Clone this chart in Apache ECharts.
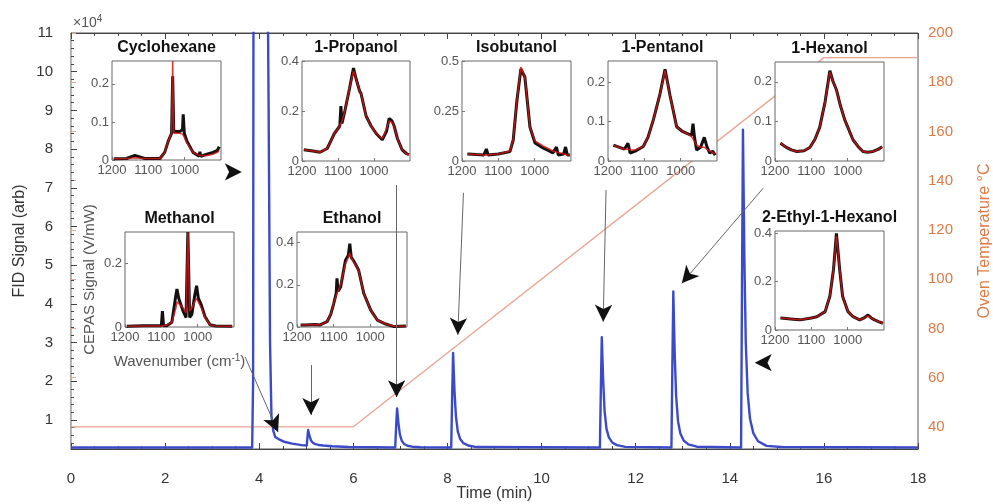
<!DOCTYPE html>
<html><head><meta charset="utf-8">
<script src="https://cdn.jsdelivr.net/npm/echarts@6/dist/echarts.min.js"></script>
<style>html,body{margin:0;padding:0;background:#fff}#c{width:993px;height:504px}</style>
</head><body><div id="c"></div>
<script>
// ---------------- DATA ----------------
// FID chromatogram (time in min, signal in 1e4 arb)
const fidTime = [0, 3.85, 3.87, 3.88, 4.15, 4.17, 4.2, 4.23, 4.26, 4.3, 4.34, 4.38, 4.42, 4.46, 4.55, 4.7, 4.9,
  5.01, 5.03, 5.04, 5.07, 5.10, 5.14, 5.19, 5.26, 5.36, 5.55, 5.9,
  6.89, 6.91, 6.93, 6.96, 6.99, 7.03, 7.08, 7.15, 7.25, 7.43,
  8.08, 8.10, 8.12, 8.15, 8.18, 8.22, 8.27, 8.34, 8.44, 8.62,
  11.24, 11.26, 11.28, 11.31, 11.34, 11.38, 11.43, 11.5, 11.6, 11.78,
  12.76, 12.78, 12.80, 12.83, 12.86, 12.90, 12.95, 13.02, 13.12, 13.3,
  14.24, 14.26, 14.28, 14.31, 14.34, 14.38, 14.43, 14.5, 14.6, 14.78, 15.1, 18];
const fidSignal = [0.29, 0.29, 2.0, 15, 20, 14, 9, 3, 1.1, 0.72, 0.56, 0.52, 0.5, 0.46, 0.43, 0.39, 0.35,
  0.34, 0.62, 0.74, 0.58, 0.47, 0.41, 0.375, 0.355, 0.34, 0.32, 0.30,
  0.29, 0.85, 1.3, 0.9, 0.62, 0.46, 0.38, 0.335, 0.31, 0.295,
  0.29, 1.6, 2.73, 1.75, 1.1, 0.7, 0.51, 0.4, 0.34, 0.3,
  0.29, 1.8, 3.14, 2.0, 1.23, 0.77, 0.55, 0.42, 0.35, 0.305,
  0.29, 2.4, 4.32, 2.7, 1.62, 0.97, 0.65, 0.47, 0.37, 0.31,
  0.29, 4.5, 8.5, 5.2, 3.0, 1.7, 1.03, 0.66, 0.45, 0.33, 0.3, 0.29];
// Oven temperature program
const tempTime = [0, 6, 16, 18];
const tempValue = [40, 40, 190, 190];
// Axis tick labels
const xTickValues = [0, 2, 4, 6, 8, 10, 12, 14, 16, 18];
const leftTickValues = [1, 2, 3, 4, 5, 6, 7, 8, 9, 10, 11];
const rightTickValues = [40, 60, 80, 100, 120, 140, 160, 180, 200];
const insetXTicks = [1200, 1100, 1000];

// Inset spectra (wavenumber cm-1, CEPAS signal V/mW); black = measured, red = reference
const cycWn    = [1195, 1160, 1137, 1110, 1068, 1055, 1045, 1036, 1033, 1030, 1026, 1013, 1006, 1004, 1001, 994, 977, 960, 958, 956, 939, 922, 910, 905];
const cycBlack = [0.003, 0.004, 0.012, 0.004, 0.004, 0.02, 0.05, 0.07, 0.22, 0.075, 0.07, 0.075, 0.08, 0.12, 0.07, 0.05, 0.02, 0.01, 0.022, 0.01, 0.015, 0.02, 0.025, 0.035];
const cycRed   = [0.003, 0.004, 0.006, 0.004, 0.004, 0.02, 0.05, 0.07, 0.26, 0.07, 0.065, 0.07, 0.068, 0.065, 0.06, 0.045, 0.02, 0.012, 0.012, 0.012, 0.012, 0.015, 0.02, 0.025];
const cycTicks = [0, 0.1, 0.2];

const metWn    = [1195, 1150, 1120, 1100, 1097, 1094, 1085, 1071, 1060, 1057, 1052, 1040, 1032, 1027, 1025, 1022, 1016, 1008, 1003, 998, 990, 980, 966, 950, 905];
const metBlack = [0.002, 0.004, 0.004, 0.004, 0.05, 0.004, 0.004, 0.015, 0.1, 0.12, 0.09, 0.05, 0.03, 0.3, 0.3, 0.03, 0.04, 0.1, 0.13, 0.09, 0.07, 0.033, 0.007, 0.003, 0.002];
const metRed   = [0.002, 0.003, 0.003, 0.003, 0.004, 0.004, 0.006, 0.015, 0.06, 0.08, 0.085, 0.06, 0.045, 0.3, 0.3, 0.05, 0.06, 0.08, 0.09, 0.085, 0.06, 0.03, 0.007, 0.003, 0.002];
const metTicks = [0, 0.2];

const proWn    = [1195, 1170, 1150, 1130, 1110, 1095, 1092, 1089, 1081, 1068, 1057, 1050, 1040, 1036, 1022, 1008, 994, 977, 965, 958, 950, 944, 935, 922, 910, 903];
const proBlack = [0.045, 0.04, 0.035, 0.05, 0.11, 0.14, 0.22, 0.15, 0.2, 0.29, 0.372, 0.33, 0.28, 0.27, 0.18, 0.14, 0.11, 0.085, 0.12, 0.17, 0.16, 0.14, 0.09, 0.045, 0.03, 0.025];
const proRed   = [0.045, 0.04, 0.035, 0.05, 0.11, 0.14, 0.15, 0.16, 0.2, 0.29, 0.36, 0.33, 0.28, 0.27, 0.18, 0.14, 0.11, 0.09, 0.13, 0.16, 0.155, 0.14, 0.09, 0.045, 0.03, 0.025];
const proTicks = [0, 0.2, 0.4];

const ethWn    = [1190, 1178, 1150, 1137, 1118, 1108, 1100, 1093, 1091, 1088, 1081, 1068, 1060, 1056, 1052, 1046, 1032, 1018, 999, 981, 958, 935, 920, 903];
const ethBlack = [0.01, 0.01, 0.012, 0.01, 0.025, 0.06, 0.11, 0.16, 0.23, 0.17, 0.19, 0.315, 0.34, 0.395, 0.33, 0.315, 0.27, 0.16, 0.08, 0.033, 0.014, 0.002, 0.004, 0.005];
const ethRed   = [0.01, 0.01, 0.012, 0.01, 0.025, 0.06, 0.11, 0.15, 0.16, 0.17, 0.2, 0.3, 0.33, 0.35, 0.33, 0.31, 0.27, 0.16, 0.08, 0.033, 0.014, 0.004, 0.004, 0.005];
const ethTicks = [0, 0.2, 0.4];

const isoWn    = [1185, 1160, 1140, 1133, 1128, 1100, 1068, 1059, 1049, 1038, 1027, 1013, 999, 977, 960, 950, 940, 935, 930, 920, 915, 910, 903];
const isoBlack = [0.035, 0.032, 0.03, 0.06, 0.03, 0.035, 0.047, 0.105, 0.3, 0.46, 0.42, 0.17, 0.09, 0.065, 0.05, 0.04, 0.07, 0.03, 0.035, 0.035, 0.07, 0.03, 0.03];
const isoRed   = [0.035, 0.032, 0.03, 0.03, 0.03, 0.035, 0.05, 0.11, 0.3, 0.47, 0.42, 0.17, 0.1, 0.075, 0.06, 0.05, 0.045, 0.04, 0.04, 0.035, 0.035, 0.03, 0.03];
const isoTicks = [0, 0.25, 0.5];

const penWn    = [1185, 1176, 1155, 1145, 1139, 1125, 1103, 1090, 1075, 1057, 1043, 1029, 1011, 995, 983, 970, 966, 962, 956, 945, 935, 928, 920, 912, 905];
const penBlack = [0.04, 0.037, 0.03, 0.045, 0.02, 0.025, 0.037, 0.06, 0.105, 0.17, 0.233, 0.165, 0.087, 0.075, 0.07, 0.065, 0.095, 0.06, 0.028, 0.035, 0.06, 0.037, 0.02, 0.025, 0.015];
const penRed   = [0.04, 0.037, 0.03, 0.03, 0.028, 0.028, 0.037, 0.06, 0.105, 0.17, 0.23, 0.165, 0.087, 0.075, 0.07, 0.062, 0.06, 0.05, 0.04, 0.035, 0.035, 0.03, 0.025, 0.022, 0.018];
const penTicks = [0, 0.1, 0.2];

const hexWn    = [1185, 1170, 1155, 1140, 1120, 1104, 1090, 1077, 1062, 1049, 1040, 1031, 1020, 1008, 995, 985, 970, 958, 945, 930, 915, 905];
const hexBlack = [0.045, 0.035, 0.028, 0.024, 0.026, 0.034, 0.055, 0.085, 0.15, 0.228, 0.2, 0.18, 0.14, 0.104, 0.075, 0.053, 0.035, 0.024, 0.022, 0.024, 0.03, 0.036];
const hexRed   = [0.045, 0.035, 0.028, 0.024, 0.026, 0.034, 0.055, 0.085, 0.15, 0.225, 0.2, 0.18, 0.14, 0.104, 0.075, 0.053, 0.035, 0.024, 0.022, 0.024, 0.03, 0.036];
const hexTicks = [0, 0.1, 0.2];

const ehxWn    = [1185, 1177, 1150, 1131, 1100, 1085, 1062, 1049, 1039, 1033, 1031, 1028, 1022, 1014, 999, 985, 967, 955, 944, 935, 926, 915, 903];
const ehxBlack = [0.05, 0.049, 0.045, 0.042, 0.05, 0.055, 0.076, 0.14, 0.25, 0.36, 0.4, 0.35, 0.25, 0.14, 0.076, 0.055, 0.042, 0.05, 0.062, 0.05, 0.042, 0.035, 0.028];
const ehxRed   = [0.05, 0.049, 0.045, 0.042, 0.05, 0.055, 0.076, 0.14, 0.25, 0.35, 0.39, 0.35, 0.25, 0.14, 0.076, 0.055, 0.042, 0.05, 0.058, 0.05, 0.042, 0.035, 0.028];
const ehxTicks = [0, 0.2, 0.4];

// Annotation arrows [tailTime, tailSignal, tipTime, tipSignal]
const arrowLines = [
  [3.70, 2.63, 4.40, 0.69],
  [5.10, 2.42, 5.10, 1.13],
  [6.92, 7.07, 6.92, 1.59],
  [8.34, 6.87, 8.22, 3.20],
  [11.37, 6.94, 11.31, 3.54],
  [14.71, 6.99, 12.98, 4.53]
];
const arrowHeads = [
  [3.25, 7.41, 3.63, 7.41],
  [14.90, 2.48, 14.53, 2.48]
];

// ---------------- LAYOUT ----------------
const FONT = '"Liberation Sans", Arial, sans-serif';
const MAIN = {left: 71, top: 33, width: 847, height: 416};
const insets = [
  {title: 'Cyclohexane', wn: cycWn, black: cycBlack, red: cycRed, ymax: 0.26, ticks: cycTicks, box: [112, 61, 109, 99]},
  {title: '1-Propanol', wn: proWn, black: proBlack, red: proRed, ymax: 0.4, ticks: proTicks, box: [302, 61, 108, 100]},
  {title: 'Isobutanol', wn: isoWn, black: isoBlack, red: isoRed, ymax: 0.5, ticks: isoTicks, box: [462, 61, 109, 100]},
  {title: '1-Pentanol', wn: penWn, black: penBlack, red: penRed, ymax: 0.254, ticks: penTicks, box: [608, 61, 109, 100]},
  {title: '1-Hexanol', wn: hexWn, black: hexBlack, red: hexRed, ymax: 0.25, ticks: hexTicks, box: [775, 62, 109, 99]},
  {title: 'Methanol', wn: metWn, black: metBlack, red: metRed, ymax: 0.3, ticks: metTicks, box: [125, 232, 109, 95], labels: true},
  {title: 'Ethanol', wn: ethWn, black: ethBlack, red: ethRed, ymax: 0.45, ticks: ethTicks, box: [297, 232, 110, 95]},
  {title: '2-Ethyl-1-Hexanol', wn: ehxWn, black: ehxBlack, red: ehxRed, ymax: 0.41, ticks: ehxTicks, box: [775, 231, 109, 99]}
];

const zip = (a, b) => a.map((v, i) => [v, b[i]]);
const xMinor = []; for (let k = 0; k <= 36; k++) { if (k % 4) xMinor.push(k * 0.5); }
const yMinor = []; for (let k = 2; k <= 54; k++) { if (k % 5) yMinor.push(Math.round(k * 2) / 10); }

const grids = [{left: MAIN.left, top: MAIN.top, width: MAIN.width, height: MAIN.height, show: true, borderColor: '#555', borderWidth: 1,
  backgroundColor: 'transparent', z: 0, containLabel: false, outerBoundsMode: 'none'}];
const xAxes = [
  {gridIndex: 0, type: 'value', min: 0, max: 18, interval: 2, position: 'bottom',
   axisLine: {lineStyle: {color: '#444'}}, axisTick: {inside: true, length: 6, lineStyle: {color: '#444'}},
   axisLabel: {fontSize: 15, color: '#333', margin: 22, fontFamily: FONT}, splitLine: {show: false},
   name: 'Time (min)', nameLocation: 'middle', nameGap: 37, nameMoveOverlap: false,
   nameTextStyle: {fontSize: 16, color: '#333', fontFamily: FONT}},
  {gridIndex: 0, type: 'value', min: 0, max: 18, position: 'bottom', axisLine: {show: false},
   axisTick: {inside: true, length: 3, customValues: xMinor, lineStyle: {color: '#444'}}, axisLabel: {show: false}, splitLine: {show: false}},
  {gridIndex: 0, type: 'value', min: 0, max: 18, interval: 2, position: 'top',
   axisLine: {lineStyle: {color: '#444'}}, axisTick: {inside: true, length: 6, lineStyle: {color: '#444'}}, axisLabel: {show: false}, splitLine: {show: false}},
  {gridIndex: 0, type: 'value', min: 0, max: 18, position: 'top', axisLine: {show: false},
   axisTick: {inside: true, length: 3, customValues: xMinor, lineStyle: {color: '#444'}}, axisLabel: {show: false}, splitLine: {show: false}}
];
const yAxes = [
  {gridIndex: 0, type: 'value', min: 0.25, max: 11, position: 'left',
   axisLine: {lineStyle: {color: '#444'}}, axisTick: {inside: true, length: 6, customValues: leftTickValues, lineStyle: {color: '#444'}},
   axisLabel: {customValues: leftTickValues, fontSize: 15, color: '#333', margin: 18, fontFamily: FONT}, splitLine: {show: false},
   name: 'FID Signal (arb)', nameLocation: 'middle', nameGap: 43, nameRotate: 90, nameMoveOverlap: false,
   nameTextStyle: {fontSize: 16, color: '#333', fontFamily: FONT}},
  {gridIndex: 0, type: 'value', min: 31, max: 200, position: 'right',
   axisLine: {lineStyle: {color: '#e6a996'}}, axisTick: {inside: false, length: 5, customValues: rightTickValues, lineStyle: {color: '#e6a996'}},
   axisLabel: {customValues: rightTickValues, fontSize: 15, color: '#dd7b48', margin: 10, fontFamily: FONT}, splitLine: {show: false},
   name: 'Oven Temperature °C', nameLocation: 'middle', nameGap: 59, nameRotate: 90, nameMoveOverlap: false,
   nameTextStyle: {fontSize: 16, color: '#dd7b48', fontFamily: FONT}},
  {gridIndex: 0, type: 'value', min: 0.25, max: 11, position: 'left', axisLine: {show: false},
   axisTick: {inside: true, length: 3, customValues: yMinor, lineStyle: {color: '#444'}}, axisLabel: {show: false}, splitLine: {show: false}}
];
const series = [
  {type: 'line', xAxisIndex: 0, yAxisIndex: 1, data: zip(tempTime, tempValue), showSymbol: false, silent: true,
   lineStyle: {color: '#e9a593', width: 1.3}, z: 2, animation: false},
  {type: 'line', xAxisIndex: 0, yAxisIndex: 0, data: zip(fidTime, fidSignal), showSymbol: false, silent: true, clip: true,
   lineStyle: {color: '#3b4bc8', width: 2.4, join: 'round'}, z: 3, animation: false}
];

const graphics = [
  {type: 'text', x: 73, y: 23, z: 20, silent: true, style: {text: '{a|×10}{b|4}', fontFamily: FONT, verticalAlign: 'middle',
    rich: {a: {fontSize: 14, fill: '#555', fontFamily: FONT}, b: {fontSize: 10, fill: '#555', fontFamily: FONT, verticalAlign: 'top', padding: [0, 0, 8, 0]}}}}
];

insets.forEach((ins, i) => {
  const gi = i + 1;
  const [l, t, w, h] = ins.box;
  grids.push({left: l, top: t, width: w, height: h, show: true, backgroundColor: '#fff', borderColor: '#666', borderWidth: 1, z: 5,
    containLabel: false, outerBoundsMode: 'none'});
  const xa = {gridIndex: gi, type: 'value', min: 900, max: 1200, inverse: true, z: 6,
    axisLine: {show: false}, axisTick: {inside: true, length: 3, customValues: insetXTicks, lineStyle: {color: '#777'}},
    axisLabel: {customValues: insetXTicks, fontSize: 13, color: '#555', margin: 4, fontFamily: FONT, formatter: v => String(v)}, splitLine: {show: false}};
  const ya = {gridIndex: gi, type: 'value', min: 0, max: ins.ymax, z: 6,
    axisLine: {show: false}, axisTick: {inside: true, length: 3, customValues: ins.ticks, lineStyle: {color: '#777'}},
    axisLabel: {customValues: ins.ticks, fontSize: 13, color: '#555', margin: 3, fontFamily: FONT, formatter: v => String(v)}, splitLine: {show: false}};
  if (ins.labels) {
    xa.name = 'Wavenumber (cm{sup|-1})';
    xa.nameLocation = 'middle'; xa.nameGap = 26;
    xa.nameTextStyle = {fontSize: 15, color: '#555', fontFamily: FONT, rich: {sup: {fontSize: 10, color: '#555', verticalAlign: 'top', padding: [0, 0, 8, 0]}}};
    ya.name = 'CEPAS Signal (V/mW)'; ya.nameLocation = 'middle'; ya.nameGap = 28; ya.nameRotate = 90;
    ya.nameTextStyle = {fontSize: 15, color: '#555', fontFamily: FONT};
  }
  xAxes.push(xa); yAxes.push(ya);
  const xi = xAxes.length - 1, yi = yAxes.length - 1;
  series.push({type: 'line', xAxisIndex: xi, yAxisIndex: yi, data: zip(ins.wn, ins.black), showSymbol: false, silent: true,
    lineStyle: {color: '#141010', width: 3}, z: 6, animation: false});
  series.push({type: 'line', xAxisIndex: xi, yAxisIndex: yi, data: zip(ins.wn, ins.red), showSymbol: false, silent: true,
    lineStyle: {color: '#d41414', width: 1.5, opacity: 0.85}, z: 7, animation: false});
  graphics.push({type: 'text', x: l + w / 2, y: t - 13, z: 20, silent: true,
    style: {text: ins.title, font: 'bold 16px ' + FONT, fill: '#111', align: 'center', verticalAlign: 'middle'}});
});

// arrows (annotation, in data coordinates of the main axes)
const mlData = [];
arrowLines.forEach(a => {
  mlData.push([{coord: [a[0], a[1]], symbol: 'none', lineStyle: {color: '#666', width: 1, type: 'solid'}},
               {coord: [a[2], a[3]], symbol: 'none', lineStyle: {color: '#666', width: 1, type: 'solid'}}]);
  const f = 0.03;
  mlData.push([{coord: [a[2] + (a[0] - a[2]) * f, a[3] + (a[1] - a[3]) * f], symbol: 'none', lineStyle: {color: '#111', width: 0}},
               {coord: [a[2], a[3]], symbol: 'arrow', symbolSize: [13, 17], lineStyle: {color: '#111', width: 0}}]);
});
arrowHeads.forEach(a => {
  mlData.push([{coord: [a[0], a[1]], symbol: 'none', lineStyle: {color: '#111', width: 0}},
               {coord: [a[2], a[3]], symbol: 'arrow', symbolSize: [13, 17], lineStyle: {color: '#111', width: 0}}]);
});
series.push({type: 'line', xAxisIndex: 0, yAxisIndex: 0, data: [], z: 10, silent: true, animation: false,
  markLine: {silent: true, z: 10, animation: false, symbol: ['none', 'none'], label: {show: false},
    lineStyle: {type: 'solid', color: '#666', width: 1}, emphasis: {disabled: true}, data: mlData}});

const chart = echarts.init(document.getElementById('c'), null, {renderer: 'canvas'});
chart.setOption({
  animation: false,
  backgroundColor: '#fff',
  textStyle: {fontFamily: FONT},
  grid: grids, xAxis: xAxes, yAxis: yAxes, series: series, graphic: graphics
});
</script></body></html>
